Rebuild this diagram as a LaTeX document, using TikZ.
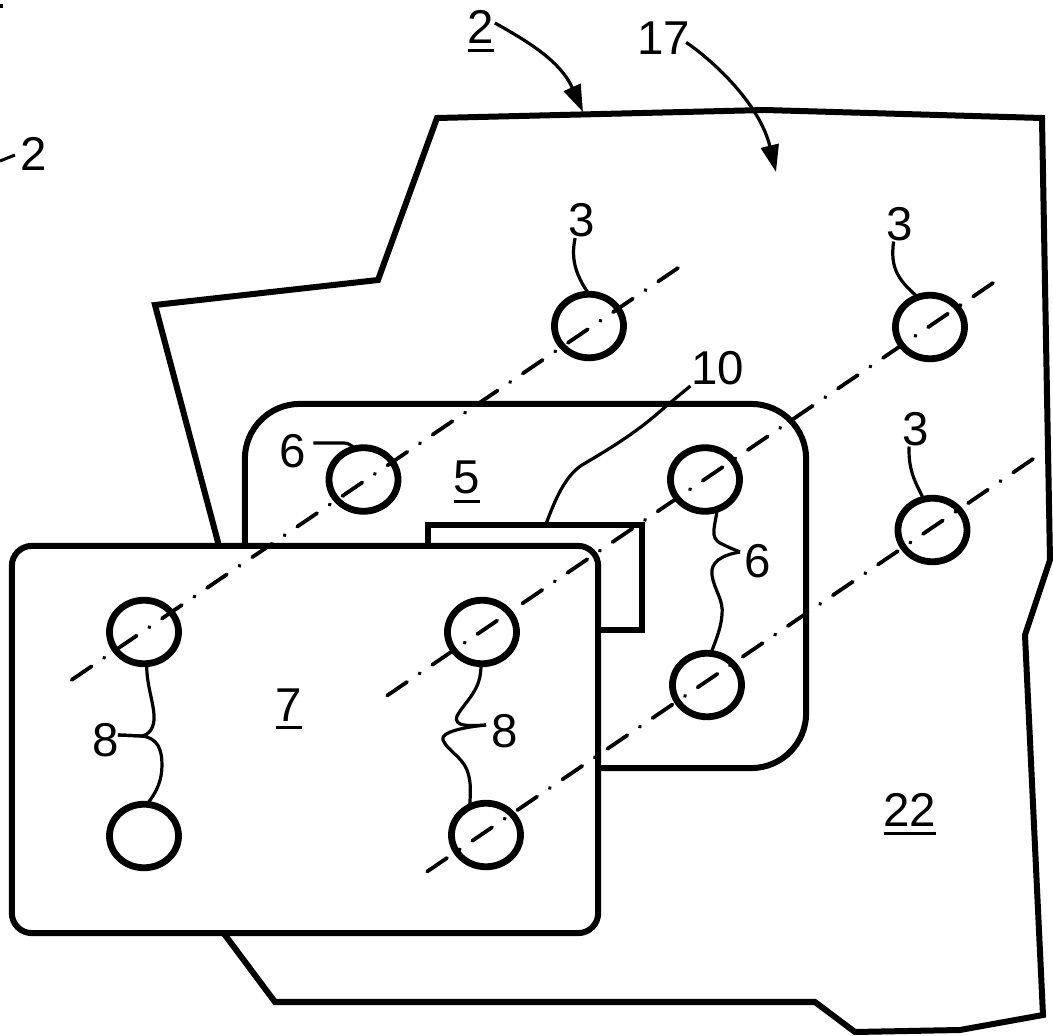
\documentclass[tikz,border=0pt]{standalone}
\usepackage{fontspec}
\setmainfont{Liberation Sans}
\usetikzlibrary{shapes.geometric,arrows.meta}
\newcommand{\ulab}[1]{\vtop{\hbox{#1}\kern1.5pt\hrule height 0.85pt}}
\tikzset{
  HoleStyle/.style = { ellipse, draw, fill = white, line width = 0.068cm,
                       inner sep = 0pt, outer sep = 0pt,
                       minimum width = 0.69cm, minimum height = 0.635cm },
  PlateStyle/.style = { rectangle, draw, fill = white, line width = 0.06cm,
                       inner sep = 0pt, outer sep = 0pt },
  LabelStyle/.style = { inner sep = 0pt, font = \fontsize{13.5}{14}\selectfont },
  LeadStyle/.style = { line width = 0.032cm },
  AxisStyle/.style = { line width = 0.038cm, line cap = round,
                       dash pattern = on 0.24cm off 0.15cm on 0.005cm off 0.15cm } }

\begin{document}
\begin{tikzpicture}[x=0.01cm,y=-0.01cm]
  \useasboundingbox (0,0) rectangle (1053,1036);
  \tikzstyle{ArrowStyle}=[LeadStyle, -{Triangle[length=0.27cm,width=0.18cm]}]

  \draw[line width = 0.06cm] (437,118) -- (765,110) -- (1042,118) -- (1050,560)
     -- (1025,635) -- (1043,1015) -- (960,1030) -- (855,1032) -- (815,1002)
     -- (275,1002) -- (225,935) -- (219,546) -- (155,305) -- (378,280) -- cycle;
  \fill (0,4) rectangle (3,8);

  \node[PlateStyle, rounded corners = 0.55cm, minimum width = 5.61cm,
        minimum height = 3.64cm] (p5) at (525.5,586) {};
  \node[PlateStyle, minimum width = 2.14cm, minimum height = 1.05cm] (p10) at (535,577.5) {};
  \node[PlateStyle, rounded corners = 0.2cm, minimum width = 5.86cm,
        minimum height = 3.87cm] (p7) at (305,739.5) {};

  \node[HoleStyle] (t1) at (589,326) {};
  \node[HoleStyle] (t2) at (930,327) {};
  \node[HoleStyle] (t3) at (932.5,530) {};
  \node[HoleStyle] (s1) at (363.5,479.5) {};
  \node[HoleStyle] (s2) at (705,479.5) {};
  \node[HoleStyle] (s3) at (707,685) {};
  \node[HoleStyle] (r1) at (144,632) {};
  \node[HoleStyle] (r2) at (482,632) {};
  \node[HoleStyle] (r3) at (144,836) {};
  \node[HoleStyle] (r4) at (486,835) {};

  \node[LabelStyle] (n2) at (481,31) {\ulab{2}};
  \node[LabelStyle] (n17) at (664,38.5) {17};
  \node[LabelStyle] (a3) at (581.5,220.5) {3};
  \node[LabelStyle] (b3) at (900,224) {3};
  \node[LabelStyle] (c3) at (915.5,429) {3};
  \node[LabelStyle] (n10) at (717.5,368.5) {10};
  \node[LabelStyle] (n5) at (467,482) {\ulab{5}};
  \node[LabelStyle] (a6) at (292.5,451) {6};
  \node[LabelStyle] (b6) at (758,561.5) {6};
  \node[LabelStyle] (n7) at (289,709) {\ulab{7}};
  \node[LabelStyle] (a8) at (105.5,740) {8};
  \node[LabelStyle] (b8) at (505,731.5) {8};
  \node[LabelStyle] (n22) at (910,814) {\ulab{22}};
  \node[LabelStyle] (d2) at (34,153.5) {2};

  \coordinate (m2) at (583,112);
  \coordinate (m17) at (776,172);
  \coordinate (m10) at (546,524);
  \coordinate (m6) at (740,552);
  \coordinate (m8) at (118,735);
  \coordinate (k8) at (486,725);
  \coordinate (d0) at (0,161);
  \coordinate (d1) at (15,155);

  \draw[ArrowStyle] (n2.30) .. controls (525,40) and (560,60) .. (m2);
  \draw[ArrowStyle, shorten <= -0.06cm] (n17.-15) .. controls (715,62) and (760,105) .. (m17);

  \draw[LeadStyle] (a3.250) .. controls (570,262) and (578,278) .. (t1.north);
  \draw[LeadStyle] (b3.250) .. controls (890,268) and (898,280) .. (t2.112);
  \draw[LeadStyle] (c3.250) .. controls (908,472) and (917,485) .. (t3.106);
  \draw[LeadStyle, shorten <= 0.07cm] (a6.30) -- (340,443) .. controls (348,443) .. (s1.105);
  \draw[LeadStyle] (n10.south west) -- (665,407) .. controls (645,425) and (625,440) .. (582,465)
     .. controls (565,476) and (555,500) .. (m10);
  \draw[LeadStyle] (s2.-68) .. controls (716,525) and (708,538) .. (722,544) .. controls (728,547) .. (m6);
  \draw[LeadStyle] (m6) .. controls (722,555) and (710,562) .. (712,575)
     .. controls (714,590) and (724,600) .. (722,615) .. controls (721,628) and (716,640) .. (s3.83);
  \draw[LeadStyle] (r1.-85) .. controls (146,685) and (155,705) .. (154,720)
     .. controls (153,730) and (148,735) .. (142,736) -- (m8);
  \draw[LeadStyle] (m8) -- (142,736) .. controls (158,738) and (162,750) .. (162,765)
     .. controls (162,780) and (157,792) .. (r3.85);
  \draw[LeadStyle] (r2.268) .. controls (482,690) and (466,700) .. (457,716)
     .. controls (453,727) and (470,726) .. (k8);
  \draw[LeadStyle] (k8) .. controls (465,727) and (440,732) .. (443,740)
     .. controls (447,750) and (462,757) .. (467,770) .. controls (472,783) and (470,795) .. (r4.120);

  \draw[line width = 0.03cm] (d0) -- (d1);

  \coordinate (e1) at (70,681);  \coordinate (f1) at (678,268);
  \coordinate (e2) at (385,697); \coordinate (f2) at (993,283);
  \coordinate (e3) at (425,873); \coordinate (f3) at (1033,459);
  \draw[AxisStyle] (f1) -- (e1);
  \draw[AxisStyle] (f2) -- (e2);
  \draw[AxisStyle] (f3) -- (e3);
\end{tikzpicture}
\end{document}
